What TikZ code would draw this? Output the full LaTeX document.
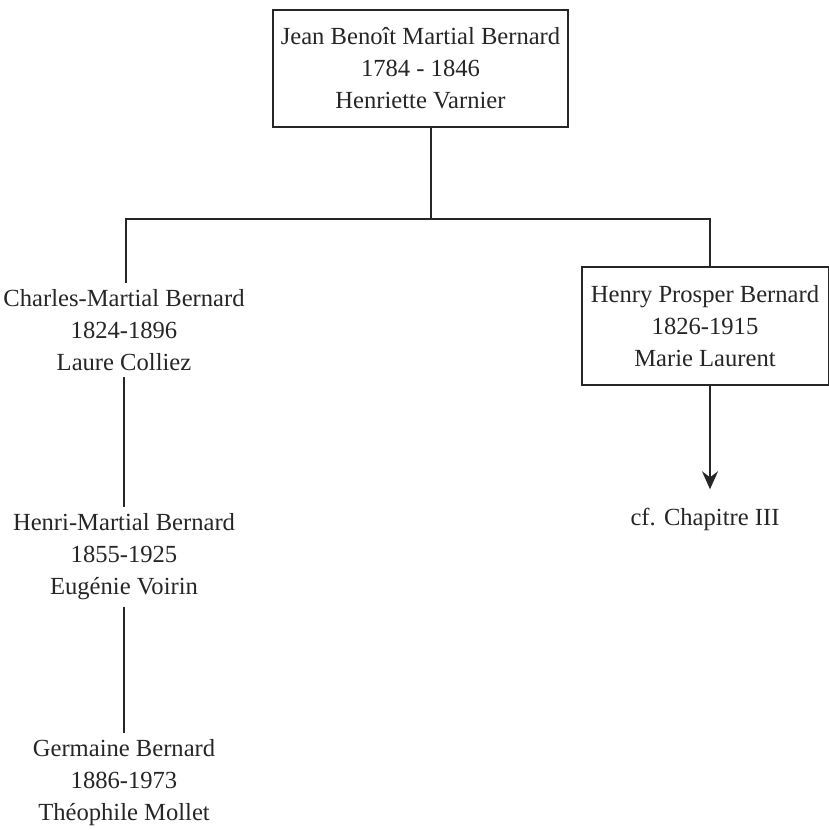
\documentclass[tikz,border=0pt]{standalone}
\usepackage{fontspec}
\setmainfont{Liberation Serif}
\usetikzlibrary{arrows.meta, positioning}
\definecolor{Ink}{HTML}{262626}

\tikzset{
    person/.style={align=center, inner sep=3pt, text=Ink,
        font=\fontsize{12.3}{16}\selectfont},
    personbox/.style={person, draw=Ink, line width=1pt},
    link/.style={draw=Ink, line width=0.9pt},
}

\begin{document}
\begin{tikzpicture}[x=0.5pt, y=-0.5pt]

    \useasboundingbox (0,0) rectangle (829,830);

    % Ancestor
    \node[personbox, minimum width=147.5pt, minimum height=58.5pt] (jean) at (420.5,68.5)
        {Jean Benoît Martial Bernard\\1784 - 1846\\Henriette Varnier};

    % Children
    \node[person] (charles) at (124,330)
        {Charles-Martial Bernard\\1824-1896\\Laure Colliez};
    \node[personbox, minimum width=123.5pt, minimum height=59pt] (henry) at (705,326)
        {Henry Prosper Bernard\\1826-1915\\Marie Laurent};

    % Descendants
    \node[person] (henri) at (124,557)
        {Henri-Martial Bernard\\1855-1925\\Eugénie Voirin};
    \node[person] (germaine) at (124,783)
        {Germaine Bernard\\1886-1973\\Théophile Mollet};
    \node[person, anchor=base] (chapitre) at (705,525) {cf. Chapitre III};

    % Fork
    \coordinate (fork) at (431,219);
    \coordinate (forkL) at (126,219);
    \coordinate (forkR) at (710,219);

    \draw[link] (fork |- jean.south) -- (fork);
    \draw[link] (forkL |- charles.north) -- (forkL) -- (forkR) -- (forkR |- henry.north);

    % Lines of descent
    \draw[link] (charles.south) -- (henri.north);
    \draw[link] (henri.south) -- (germaine.north);
    \draw[link, -{Stealth[length=9pt, width=8pt, inset=3pt]}, shorten >=6pt]
        (henry.south -| forkR) -- (chapitre.north -| forkR);

\end{tikzpicture}
\end{document}
